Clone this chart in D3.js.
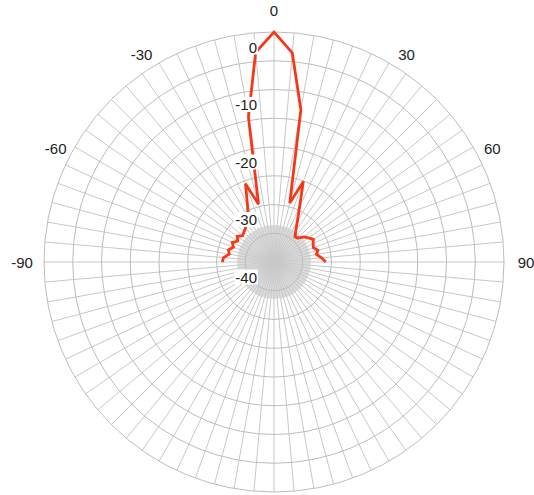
<!DOCTYPE html>
<html>
<head>
<meta charset="utf-8">
<script src="https://cdn.jsdelivr.net/npm/d3@7"></script>
<style>
  body { margin: 0; background: #fff; }
  text { font-family: "Liberation Sans", Arial, sans-serif; }
</style>
</head>
<body>
<svg id="chart"></svg>
<script>
// pattern angles (deg) and level (dB)
const angles = [-90, -85, -80, -75, -70, -65, -60, -55, -50, -45, -40, -35, -30, -25, -20, -15, -10, -5,
  0, 5, 10, 15, 20, 25, 30, 35, 40, 45, 50, 55, 60, 65, 70, 75, 80, 85, 90];
const levels = [-31.0, -31.2, -32.1, -31.8, -32.5, -32.0, -32.7, -32.2, -32.9, -32.6, -32.3, -31.7, -31.0, -29.1, -25.5, -29.6, -14.4, -3.4,
  0, -3.5, -13.1, -29.4, -25.1, -29.5, -31.9, -33.4, -34.3, -34.1, -33.2, -32.7, -32.1, -32.5, -32.7, -32.1, -32.5, -31.7, -31.0];

const ringTicks = [-35, -30, -25, -20, -15, -10, -5, 0];
const dbLabels = [0, -10, -20, -30, -40];
const angleLabels = [-90, -60, -30, 0, 30, 60, 90];

const width = 534, height = 495;
const cx = 274, cy = 262, R = 230;

const svg = d3.select("#chart").attr("width", width).attr("height", height);
const g = svg.append("g").attr("transform", `translate(${cx},${cy})`);

const r = d3.scaleLinear().domain([-40, 0]).range([0, R]);
const rad = d => d * Math.PI / 180;

// grey hub where the spokes crowd together
g.append("circle")
  .attr("r", 37)
  .attr("fill", "#dcdcdc");

// spokes every 5 degrees
g.append("g").selectAll("line")
  .data(d3.range(0, 360, 5))
  .enter().append("line")
  .attr("x1", 0).attr("y1", 0)
  .attr("x2", d => R * Math.sin(rad(d)))
  .attr("y2", d => -R * Math.cos(rad(d)))
  .attr("stroke", "#c8c8c8")
  .attr("stroke-width", 1);

// rings
g.append("g").selectAll("circle")
  .data(ringTicks)
  .enter().append("circle")
  .attr("r", d => r(d))
  .attr("fill", "none")
  .attr("stroke", "#bdbdbd")
  .attr("stroke-width", 1);

// pattern trace
const line = d3.lineRadial()
  .angle((d, i) => rad(angles[i]))
  .radius(d => r(d));

g.append("path")
  .datum(levels)
  .attr("d", line)
  .attr("fill", "none")
  .attr("stroke", "#f5371a")
  .attr("stroke-width", 2.8)
  .attr("stroke-linejoin", "miter");

// dB labels with white boxes
const dbG = g.append("g");
dbLabels.forEach(v => {
  const t = dbG.append("text")
    .attr("x", -17)
    .attr("y", -r(v) + 15)
    .attr("text-anchor", "end")
    .attr("dominant-baseline", "central")
    .attr("font-size", 15)
    .attr("fill", "#222")
    .text(v);
  const b = t.node().getBBox();
  dbG.insert("rect", () => t.node())
    .attr("x", b.x - 1).attr("y", b.y + 1)
    .attr("width", b.width + 2).attr("height", b.height - 2)
    .attr("fill", "#fff");
});

// angle labels
g.append("g").selectAll("text")
  .data(angleLabels)
  .enter().append("text")
  .attr("x", d => {
    const a = rad(d + 3 * Math.sin(rad(2 * d)));
    const rr = R + 22 - 7 * Math.abs(Math.sin(rad(2 * d)));
    return rr * Math.sin(a);
  })
  .attr("y", d => {
    const a = rad(d + 3 * Math.sin(rad(2 * d)));
    const rr = R + 22 - 7 * Math.abs(Math.sin(rad(2 * d)));
    return -rr * Math.cos(a);
  })
  .attr("text-anchor", "middle")
  .attr("dominant-baseline", "central")
  .attr("font-size", 15)
  .attr("fill", "#222")
  .text(d => d);
</script>
</body>
</html>
